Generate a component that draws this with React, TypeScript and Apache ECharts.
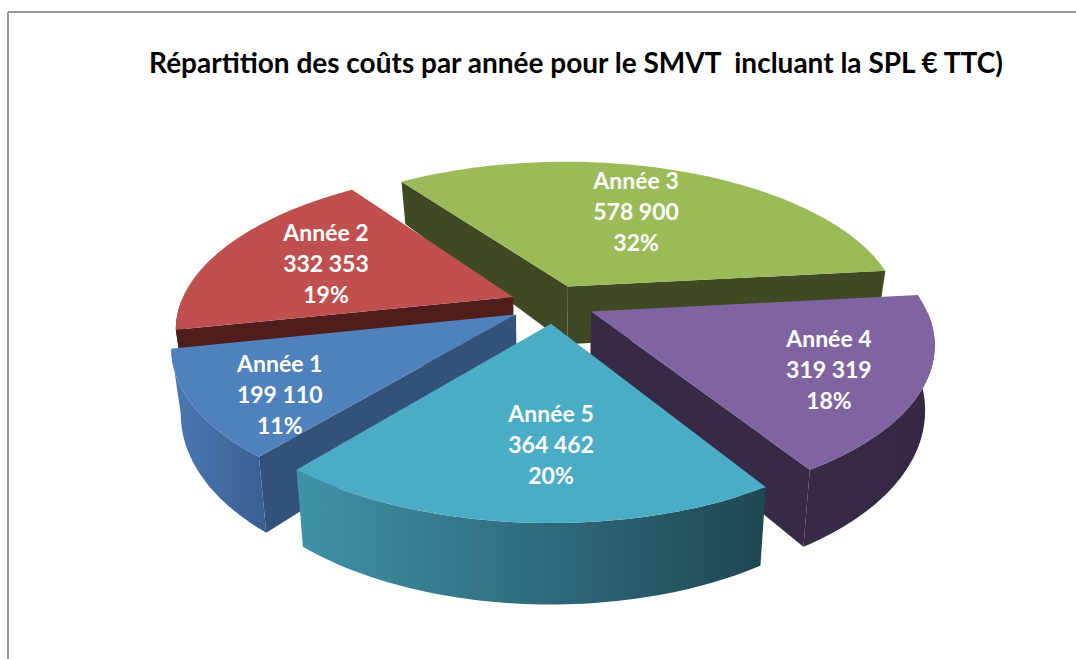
import React, { useEffect, useRef } from "react";
import * as echarts from "echarts";

const categories = ["Année 1", "Année 2", "Année 3", "Année 4", "Année 5"];
const values = [199110, 332353, 578900, 319319, 364462];
const valueLabels = ["199 110", "332 353", "578 900", "319 319", "364 462"];
const titleText = "Répartition des coûts par année pour le SMVT  incluant la SPL € TTC)";

const topColors = ["#4F81BD", "#C0504D", "#9BBB59", "#8064A2", "#4BACC6"];
const wallColors = ["#33527A", "#4F1D1B", "#3F4A24", "#362A47", "#2F6F80"];
const sideStops = [
  ["#4A79B2", "#3A5F92"],
  ["#4F1D1B", "#4F1D1B"],
  ["#3F4A24", "#3F4A24"],
  ["#362A47", "#352944"],
  ["#4092A8", "#1F4753"],
];
const labelFractions = [0.78, 0.64, 0.61, 0.74, 0.65];
const labelAngleNudge = [-4, 0, 0, 5, -1.5];
// The source's perspective shifts some slice boundaries slightly (degrees).
const boundaryNudge = [1.5, 0, 0, 3, 3.2, 1.5];

const FONT = "Lato, Carlito, 'Open Sans', sans-serif";
const CX = 552, CY = 304, R = 333, EXPLODE = 42;
const SIN_E = 0.462, COS_E = 0.887, PERSPECTIVE_D = 1590;
const START_DEG = 218;
const total = values.reduce((a, b) => a + b, 0);

const rad = (d: number) => (d * Math.PI) / 180;
const dropAt = (gy: number) => 60 + 19 * (gy / R);

function project(gx: number, gy: number, drop = 0): number[] {
  const w = PERSPECTIVE_D / (PERSPECTIVE_D - gy * COS_E);
  const k = drop ? 0.975 : 1;
  return [CX + gx * w * k, CY + gy * SIN_E * w + (drop ? dropAt(gy) : 0)];
}

function sliceGeometry(i: number) {
  let a0 = START_DEG;
  for (let j = 0; j < i; j++) a0 += (values[j] / total) * 360;
  const a1 = a0 + (values[i] / total) * 360;
  const mid = (a0 + a1) / 2;
  return { a0: a0 + boundaryNudge[i], a1: a1 + boundaryNudge[i + 1], mid };
}

function point(i: number, angle: number, r: number) {
  const { mid } = sliceGeometry(i);
  const ox = Math.sin(rad(mid)) * EXPLODE;
  const oy = -Math.cos(rad(mid)) * EXPLODE;
  return [ox + Math.sin(rad(angle)) * r, oy - Math.cos(rad(angle)) * r];
}

function renderSlice(_: any, api: any) {
  const i = api.value(1) as number;
  const { a0, a1, mid } = sliceGeometry(i);
  const steps = 60;
  const arc: number[][] = [];
  const front: number[][] = [];
  for (let s = 0; s <= steps; s++) {
    const a = a0 + ((a1 - a0) * s) / steps;
    const p = point(i, a, R);
    arc.push(p);
    // only the part of the rim that faces the viewer is drawn
    if (Math.cos(rad(a)) < 0) front.push(p);
  }
  const apex = point(i, mid, 0);
  const top = (p: number[]) => project(p[0], p[1]);
  const bottom = (p: number[]) => project(p[0], p[1], 1);
  const wall = (p: number[]) => ({
    type: "polygon",
    shape: { points: [top(apex), top(p), bottom(p), bottom(apex)] },
    style: { fill: wallColors[i] },
  });
  const children: any[] = [];
  // a0 wall faces direction a0-90, a1 wall faces a1+90
  if (Math.cos(rad(a0 - 90)) < 0) children.push(wall(arc[0]));
  if (Math.cos(rad(a1 + 90)) < 0) children.push(wall(arc[steps]));
  if (front.length > 1) {
    children.push({
      type: "polygon",
      shape: { points: [...front.map(top), ...front.slice().reverse().map(bottom)] },
      style: {
        fill: new echarts.graphic.LinearGradient(0, 0, 1, 0, [
          { offset: 0, color: sideStops[i][0] },
          { offset: 1, color: sideStops[i][1] },
        ]),
      },
    });
  }
  children.push({ type: "polygon", shape: { points: [top(apex), ...arc.map(top)] }, style: { fill: topColors[i] } });
  const labXY = top(point(i, mid + labelAngleNudge[i], R * labelFractions[i]));
  const pct = Math.round((values[i] / total) * 100);
  children.push({
    type: "text",
    style: {
      text: `${categories[i]}\n${valueLabels[i]}\n${pct}%`,
      x: labXY[0],
      y: labXY[1],
      fill: "#FFFFFF",
      font: `bold 23px ${FONT}`,
      lineHeight: 31,
      align: "center",
      verticalAlign: "middle",
    },
  });
  return { type: "group", children };
}

const drawOrder = categories
  .map((_, i) => i)
  .sort((a, b) => -Math.cos(rad(sliceGeometry(a).mid)) - -Math.cos(rad(sliceGeometry(b).mid)));

export default function App() {
  const ref = useRef<HTMLDivElement>(null);
  useEffect(() => {
    document.body.style.margin = "0";
    const chart = echarts.init(ref.current!, undefined, { renderer: "svg" });
    chart.setOption({
      animation: false,
      backgroundColor: "#FFFFFF",
      title: {
        text: titleText,
        left: 571,
        top: 43,
        textAlign: "center",
        textStyle: { fontFamily: FONT, fontWeight: "bold", fontSize: 28, color: "#000000" },
      },
      graphic: [
        { type: "line", shape: { x1: 8, y1: 12, x2: 1076, y2: 12 }, style: { stroke: "#999999", lineWidth: 2 } },
        { type: "line", shape: { x1: 8, y1: 12, x2: 8, y2: 659 }, style: { stroke: "#999999", lineWidth: 2 } },
      ],
      series: [
        {
          type: "custom",
          coordinateSystem: "none",
          renderItem: renderSlice,
          data: drawOrder.map((i) => ({ name: categories[i], value: [values[i], i] })),
        },
      ],
    });
    return () => chart.dispose();
  }, []);
  return <div ref={ref} style={{ width: 1076, height: 659 }} />;
}
